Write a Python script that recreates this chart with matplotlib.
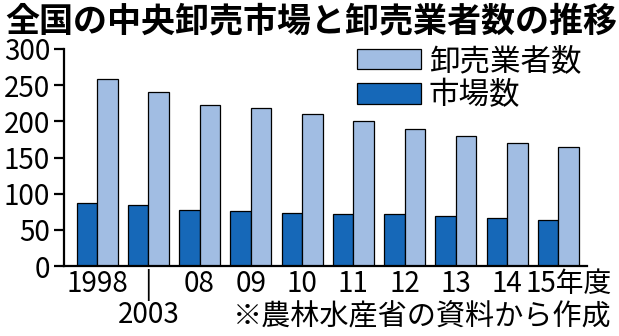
import matplotlib.pyplot as plt
import matplotlib.transforms as mtransforms
from matplotlib.patches import Patch

plt.rcParams['font.family'] = ['Noto Sans CJK JP', 'DejaVu Sans']

# 年度別の市場数と卸売業者数
years = ['1998', '|\n2003', '08', '09', '10', '11', '12', '13', '14', '15年度']
markets = [87, 85, 78, 76, 73, 72, 72, 69, 66, 64]
wholesalers = [259, 240, 223, 218, 210, 200, 190, 180, 170, 165]

dark = '#1668b8'
light = '#a1bde3'

fig = plt.figure(figsize=(6.19, 3.36), dpi=100)
ax = fig.add_axes([64/619, 70/336, (587-64)/619, (266-49)/336])

x = list(range(len(years)))
ax.bar([i - 0.2 for i in x], markets, width=0.4, color=dark,
       edgecolor='black', linewidth=0.9)
ax.bar([i + 0.2 for i in x], wholesalers, width=0.4, color=light,
       edgecolor='black', linewidth=0.9)

ax.set_xlim(-0.645, 9.56)
ax.set_ylim(0, 300)
ax.set_yticks(range(0, 301, 50))
ax.set_xticks(x)
ax.set_xticklabels(years, fontsize=20, linespacing=0.95, va='top')
ax.tick_params(axis='x', length=0, pad=2)
ax.tick_params(axis='y', length=7, width=1.6, pad=3, labelsize=20)

# 最後の「15年度」は右へ少しずらす
last = ax.get_xticklabels()[-1]
last.set_transform(last.get_transform() +
                   mtransforms.ScaledTranslation(10/100, 0, fig.dpi_scale_trans))

for s in ['top', 'right']:
    ax.spines[s].set_visible(False)
ax.spines['left'].set_linewidth(1.6)
ax.spines['bottom'].set_linewidth(1.6)

handles = [Patch(facecolor=light, edgecolor='black', linewidth=0.9, label='卸売業者数'),
           Patch(facecolor=dark, edgecolor='black', linewidth=0.9, label='市場数')]
fig.legend(handles=handles, loc='upper left', bbox_to_anchor=(357/619, 1 - 46/336),
           frameon=False, fontsize=22, handlelength=2.1, handleheight=0.65,
           handletextpad=0.25, labelspacing=0.1, borderpad=0, borderaxespad=0)

fig.text(0.008, 0.99, '全国の中央卸売市場と卸売業者数の推移', fontsize=24.5,
         fontweight='bold', ha='left', va='top')
fig.text(0.988, 0.01, '※農林水産省の資料から作成', fontsize=21, ha='right', va='bottom')

fig.savefig('out.png', dpi=100)
